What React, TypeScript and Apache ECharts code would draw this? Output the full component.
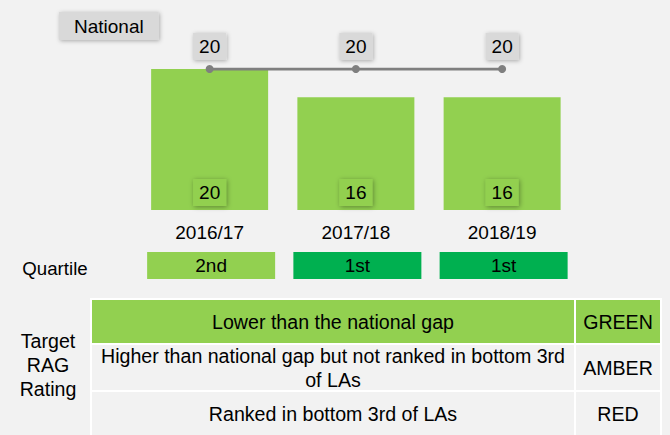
import React, { useEffect, useRef } from "react";
import * as echarts from "echarts";

const categories = ["2016/17", "2017/18", "2018/19"];
const pupilGap = [20, 16, 16];
const nationalGap = [20, 20, 20];
const quartiles = ["2nd", "1st", "1st"];
const ragCriteria = [
  "Lower than the national gap",
  "Higher than national gap but not ranked in bottom 3rd\nof LAs",
  "Ranked in bottom 3rd of LAs",
];
const ragRatings = ["GREEN", "AMBER", "RED"];

const FONT = "Liberation Sans, Arial, sans-serif";
const LIGHT_GREEN = "#92d050";
const DARK_GREEN = "#00b050";
const quartileColor: Record<string, string> = { "1st": DARK_GREEN, "2nd": LIGHT_GREEN };
const FS = 19;
const TFS = 19.6;

export default function App() {
  const ref = useRef<HTMLDivElement>(null);
  useEffect(() => {
    if (!ref.current) return;
    const chart = echarts.init(ref.current, null, { renderer: "svg" });

    const rowY = [299, 344, 391];
    const rowH = [45, 47, 46];
    const colX = [91, 575];
    const colW = [484, 86];
    const tableEls: any[] = [];
    ragCriteria.forEach((crit, i) => {
      const fill = i === 0 ? LIGHT_GREEN : "#f2f2f2";
      tableEls.push({
        type: "rect",
        shape: { x: colX[0], y: rowY[i], width: colW[0], height: rowH[i] },
        style: { fill, stroke: "#ffffff", lineWidth: 2 },
      });
      tableEls.push({
        type: "rect",
        shape: { x: colX[1], y: rowY[i], width: colW[1], height: rowH[i] },
        style: { fill, stroke: "#ffffff", lineWidth: 2 },
      });
    });
    ragCriteria.forEach((crit, i) => {
      tableEls.push({
        type: "text",
        x: colX[0] + colW[0] / 2,
        y: rowY[i] + rowH[i] / 2,
        style: {
          text: crit,
          fill: "#000",
          fontSize: TFS,
          fontFamily: FONT,
          lineHeight: 24,
          textAlign: "center",
          align: "center",
          textVerticalAlign: "middle",
          verticalAlign: "middle",
        },
      });
      tableEls.push({
        type: "text",
        x: colX[1] + colW[1] / 2,
        y: rowY[i] + rowH[i] / 2,
        style: {
          text: ragRatings[i],
          fill: "#000",
          fontSize: TFS,
          fontFamily: FONT,
          textAlign: "center",
          align: "center",
          textVerticalAlign: "middle",
          verticalAlign: "middle",
        },
      });
    });

    chart.setOption({
      animation: false,
      backgroundColor: "#f2f2f2",
      title: {
        text: "National",
        left: 59,
        top: 12,
        padding: [4, 15],
        backgroundColor: "#d9d9d9",
        shadowBlur: 4,
        shadowColor: "rgba(0,0,0,0.3)",
        shadowOffsetX: 1,
        shadowOffsetY: 1,
        textStyle: { fontSize: FS, fontWeight: "normal", color: "#000", fontFamily: FONT, lineHeight: 20 },
      },
      grid: [
        { left: 136.5, width: 438.75, top: 69, height: 141 },
        { left: 138, width: 438.75, top: 252, height: 27 },
      ],
      xAxis: [
        {
          type: "category",
          gridIndex: 0,
          data: categories,
          axisLine: { show: false },
          axisTick: { show: false },
          axisLabel: { margin: 13, fontSize: FS, color: "#000", fontFamily: FONT },
        },
        {
          type: "category",
          gridIndex: 1,
          data: categories,
          show: false,
        },
      ],
      yAxis: [
        { type: "value", gridIndex: 0, min: 0, max: 20, show: false, splitLine: { show: false } },
        { type: "value", gridIndex: 1, min: 0, max: 1, show: false, splitLine: { show: false } },
      ],
      series: [
        {
          type: "bar",
          name: "Gap",
          xAxisIndex: 0,
          yAxisIndex: 0,
          data: pupilGap,
          barWidth: 117,
          itemStyle: { color: LIGHT_GREEN },
          label: {
            show: true,
            position: "insideBottom",
            distance: 4,
            fontSize: FS,
            fontFamily: FONT,
            color: "#000",
            backgroundColor: LIGHT_GREEN,
            padding: [4, 6],
            shadowBlur: 5,
            shadowColor: "rgba(0,0,0,0.35)",
            shadowOffsetX: 1,
            shadowOffsetY: 1,
          },
        },
        {
          type: "line",
          name: "National",
          xAxisIndex: 0,
          yAxisIndex: 0,
          data: nationalGap,
          symbol: "circle",
          symbolSize: 8,
          lineStyle: { color: "#7f7f7f", width: 3 },
          itemStyle: { color: "#7f7f7f" },
          label: {
            show: true,
            position: "top",
            distance: 5,
            fontSize: FS,
            fontFamily: FONT,
            color: "#000",
            backgroundColor: "#d9d9d9",
            padding: [4, 6],
            shadowBlur: 4,
            shadowColor: "rgba(0,0,0,0.3)",
            shadowOffsetX: 1,
            shadowOffsetY: 1,
          },
        },
        {
          type: "bar",
          name: "Quartile",
          xAxisIndex: 1,
          yAxisIndex: 1,
          barWidth: 128,
          data: quartiles.map((q) => ({ value: 1, itemStyle: { color: quartileColor[q] } })),
          label: {
            show: true,
            position: "inside",
            formatter: (p: any) => quartiles[p.dataIndex],
            fontSize: FS,
            fontFamily: FONT,
            color: "#000",
          },
        },
      ],
      graphic: [
        {
          type: "text",
          x: 55,
          y: 268,
          style: {
            text: "Quartile",
            fill: "#000",
            fontSize: 18.67,
            fontFamily: FONT,
            textAlign: "center",
            align: "center",
            textVerticalAlign: "middle",
            verticalAlign: "middle",
          },
        },
        {
          type: "text",
          x: 48,
          y: 365,
          style: {
            text: "Target\nRAG\nRating",
            fill: "#000",
            fontSize: TFS,
            fontFamily: FONT,
            lineHeight: 24,
            textAlign: "center",
            align: "center",
            textVerticalAlign: "middle",
            verticalAlign: "middle",
          },
        },
        ...tableEls,
      ],
    });
    return () => chart.dispose();
  }, []);
  return (
    <div
      ref={ref}
      style={{ position: "fixed", left: 0, top: 0, width: 670, height: 435 }}
    />
  );
}
